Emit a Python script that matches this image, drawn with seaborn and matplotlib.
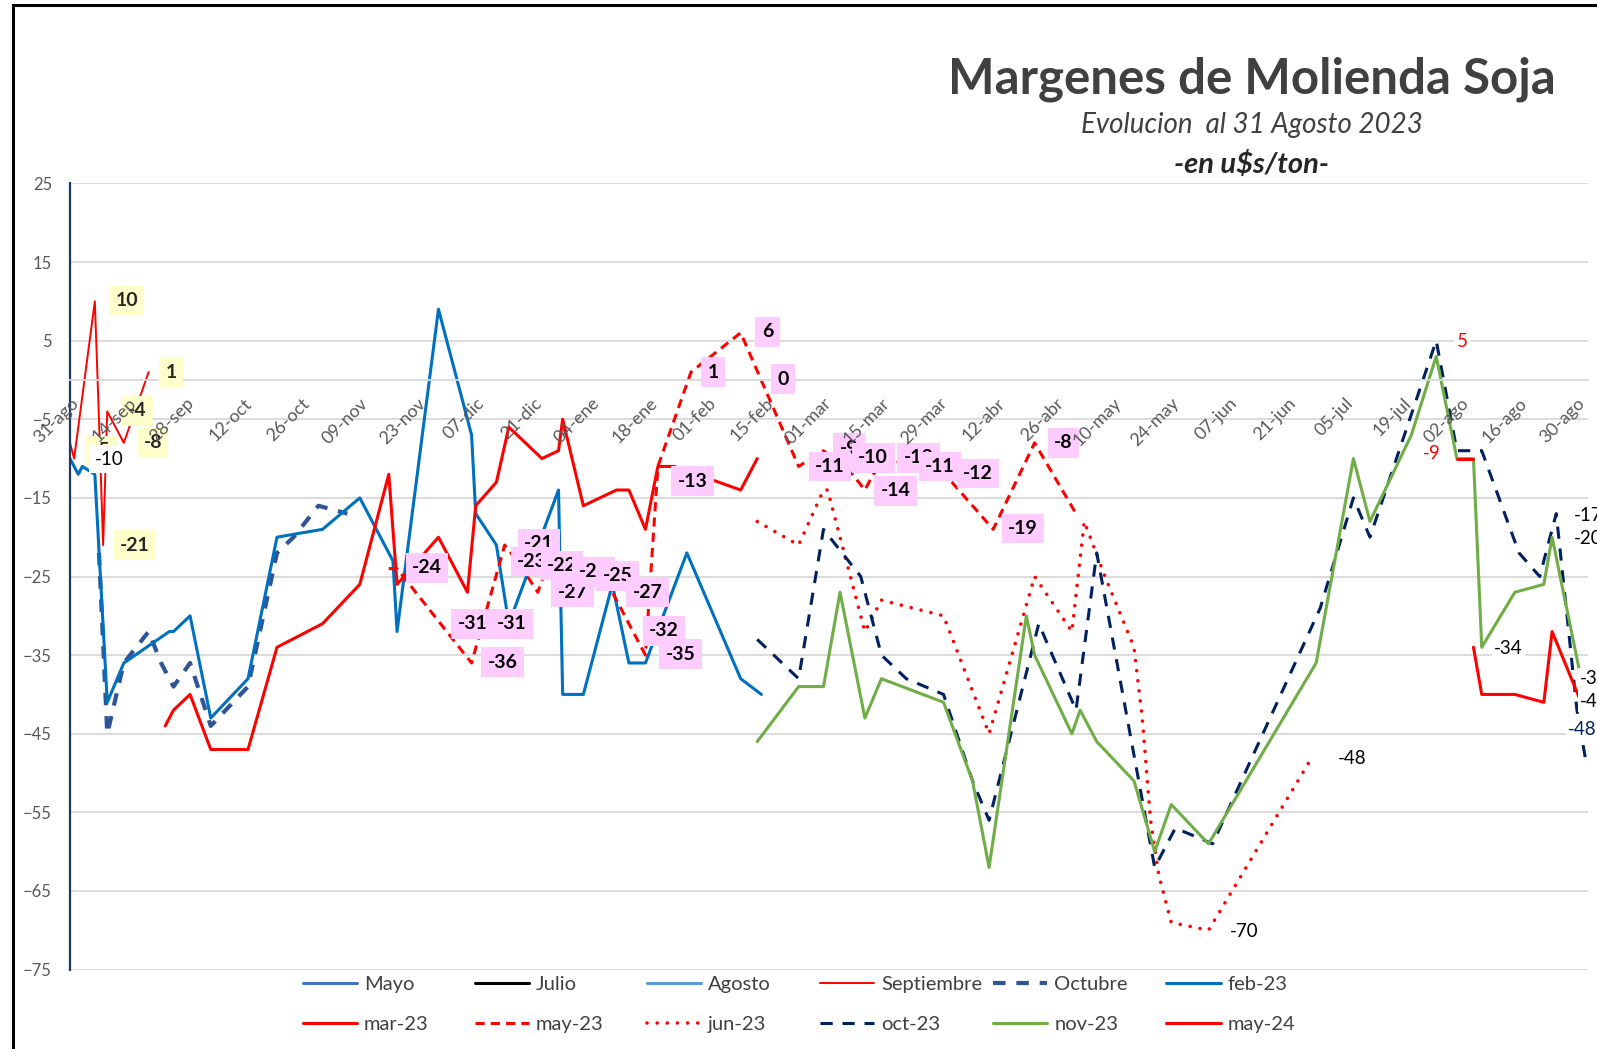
import numpy as np
import pandas as pd
import matplotlib
matplotlib.use("Agg")
import matplotlib.pyplot as plt
from matplotlib.lines import Line2D
from matplotlib.patches import Rectangle
import seaborn as sns

# eje x: dias contados desde el 31-ago-2022
tick_days = list(range(0, 365, 14))
tick_labels = ["31-ago", "14-sep", "28-sep", "12-oct", "26-oct", "09-nov", "23-nov",
               "07-dic", "21-dic", "04-ene", "18-ene", "01-feb", "15-feb", "01-mar",
               "15-mar", "29-mar", "12-abr", "26-abr", "10-may", "24-may", "07-jun",
               "21-jun", "05-jul", "19-jul", "02-ago", "16-ago", "30-ago"]
y_ticks = [25, 15, 5, -5, -15, -25, -35, -45, -55, -65, -75]

sep_days = [0, 1, 6, 7, 8, 9, 13, 19]
sep_vals = [-8, -10, 10, -5, -21, -4, -8, 1]

oct_days = [7, 9, 13, 19, 22, 25, 29, 34, 43, 50, 54, 60, 67]
oct_vals = [-22, -45, -36, -32, -36, -39, -36, -44, -39, -22, -20, -16, -17]

feb23_days = [0, 2, 3, 6, 9, 13, 24, 25, 29, 34, 43, 50, 61, 70, 78, 79, 89, 97, 98, 103,
              106, 118, 119, 124, 131, 135, 139, 149, 162, 167]
feb23_vals = [-10, -12, -11, -12, -41, -36, -32, -32, -30, -43, -38, -20, -19, -15, -23, -32, 9, -7, -17, -21,
              -31, -14, -40, -40, -26, -36, -36, -22, -38, -40]

mar23_days = [23, 25, 29, 34, 43, 50, 61, 70, 77, 79, 89, 96, 98, 103, 106, 114, 118, 119, 124, 132,
              135, 139, 142, 146, 162, 166]
mar23_vals = [-44, -42, -40, -47, -47, -34, -31, -26, -12, -26, -20, -27, -16, -13, -6, -10, -9, -5, -16, -14,
              -14, -19, -11, -11, -14, -10]

may23_days = [77, 79, 97, 105, 108, 113, 115, 120, 126, 131, 139, 142, 150, 162, 176, 182, 189,
              192, 194, 198, 203, 208, 213, 223, 233, 243]
may23_vals = [-24, -24, -36, -21, -23, -27, -24, -23, -25, -27, -35, -11, 1, 6, -11, -9, -12,
              -14, -12, -10, -11, -11, -13, -19, -8, -17]

jun23_days = [166, 176, 182, 183, 192, 193, 196, 211, 222, 233, 242, 245, 250, 257, 259, 261,
              263, 266, 275, 300]
jun23_vals = [-18, -21, -14, -14, -32, -31, -28, -30, -45, -25, -32, -18, -25, -34, -43, -56,
              -63, -69, -70, -48]

oct23_days = [166, 176, 182, 191, 196, 202, 211, 218, 222, 234, 243, 248, 262, 267, 276, 302,
              310, 314, 330, 335, 341, 350, 355, 359, 364, 366]
oct23_vals = [-33, -38, -19, -25, -35, -38, -40, -51, -56, -31, -42, -22, -62, -57, -59, -29,
              -15, -20, 5, -9, -9, -22, -25, -17, -42, -48]

nov23_days = [166, 176, 182, 186, 192, 196, 211, 218, 222, 231, 233, 242, 244, 248, 257, 262,
              266, 275, 301, 310, 314, 324, 330, 335, 339, 341, 349, 356, 358, 365]
nov23_vals = [-46, -39, -39, -27, -43, -38, -41, -51, -62, -30, -35, -45, -42, -46, -51, -60,
              -54, -59, -36, -10, -18, -7, 3, -10, -10, -34, -27, -26, -20, -38]

may24_days = [335, 339, 339, 339, 341, 349, 356, 358, 365]
may24_vals = [-10, -10, np.nan, -34, -40, -40, -41, -32, -41]

series_names = ["Mayo", "Julio", "Agosto", "Septiembre", "Octubre", "feb-23",
                "mar-23", "may-23", "jun-23", "oct-23", "nov-23", "may-24"]
series_data = {
    "Septiembre": (sep_days, sep_vals),
    "Octubre": (oct_days, oct_vals),
    "feb-23": (feb23_days, feb23_vals),
    "mar-23": (mar23_days, mar23_vals),
    "may-23": (may23_days, may23_vals),
    "jun-23": (jun23_days, jun23_vals),
    "oct-23": (oct23_days, oct23_vals),
    "nov-23": (nov23_days, nov23_vals),
    "may-24": (may24_days, may24_vals),
}

# etiquetas de datos (dia, valor, texto)
pink_labels = [
    (86.2, -23.9, "-24"), (97.2, -31, "-31"), (106.8, -31, "-31"), (104.5, -35.9, "-36"),
    (113.3, -20.8, "-21"), (111.6, -23.1, "-23"), (118.8, -23.6, "-22"), (121.4, -27, "-27"),
    (126.5, -24.4, "-24"), (132.2, -24.9, "-25"), (139.5, -27, "-27"), (143.5, -31.9, "-32"),
    (147.5, -34.9, "-35"), (150.4, -12.9, "-13"), (155.3, 1, "1"), (168.5, 6.1, "6"),
    (172.2, 0.1, "0"), (188.2, -8.7, "-9"), (183.6, -11, "-11"), (194.0, -9.9, "-10"),
    (205.0, -9.9, "-12"), (210.1, -11, "-11"), (199.4, -14.1, "-14"), (219.3, -11.9, "-12"),
    (230.2, -18.9, "-19"), (240.0, -8, "-8"),
]
yellow_labels = [
    (7.5, -9.0, "-5"), (13.7, 10.1, "10"), (24.4, 1.0, "1"), (16.2, -3.9, "-4"),
    (20.0, -8.0, "-8"), (15.7, -21.0, "-21"),
]
plain_labels = [
    (363.2, -17.3, "-17", "black"), (363.2, -20.2, "-20", "black"),
    (364.6, -38.0, "-38", "black"), (364.6, -40.9, "-41", "black"),
    (361.8, -44.5, "-48", "#002060"), (344.0, -34.2, "-34", "black"),
    (280.2, -70.2, "-70", "black"), (306.2, -48.2, "-48", "black"),
]

styles = {
    "Mayo": dict(color="#4472C4", lw=2.2),
    "Julio": dict(color="black", lw=2.2),
    "Agosto": dict(color="#5B9BD5", lw=2.2),
    "Septiembre": dict(color="#FF0000", lw=1.4),
    "Octubre": dict(color="#2F5597", lw=3.0, ls=(0, (3, 2.6))),
    "feb-23": dict(color="#0070C0", lw=2.2),
    "mar-23": dict(color="#FF0000", lw=2.2),
    "may-23": dict(color="#FF0000", lw=2.2, ls=(0, (3, 2))),
    "jun-23": dict(color="#FF0000", lw=2.6, ls=(0, (0.01, 2.8)), cap="round"),
    "oct-23": dict(color="#002060", lw=2.2, ls=(0, (4, 3.2))),
    "nov-23": dict(color="#70AD47", lw=2.2),
    "may-24": dict(color="#FF0000", lw=2.2),
}

rows = []
for name, (days, vals) in series_data.items():
    tramo = 0
    for d, v in zip(days, vals):
        if pd.isna(v):
            tramo += 1
            continue
        rows.append({"serie": name, "dia": d, "valor": v, "tramo": tramo})
df = pd.DataFrame(rows)

sns.set_style("white")
plt.rcParams["font.family"] = ["Lato", "DejaVu Sans"]

W, H = 1597, 1049
fig = plt.figure(figsize=(W / 100, H / 100), dpi=100)
fig.patch.set_facecolor("white")
ax = fig.add_axes([70 / W, 1 - 969.6 / H, (1588 - 70) / W, (969.6 - 183.4) / H])

# el eje horizontal cruza en 0
for s in ["top", "right"]:
    ax.spines[s].set_visible(False)
ax.spines["bottom"].set_position(("data", 0))
ax.spines["bottom"].set_color("#D9D9D9")
ax.spines["bottom"].set_linewidth(1.3)
ax.spines["left"].set_color("#1F3864")
ax.spines["left"].set_linewidth(1.6)

for y in y_ticks:
    ax.axhline(y, color="#D9D9D9", lw=1.3, zorder=0)

for name in series_names:
    sub = df[df["serie"] == name]
    if sub.empty:
        continue
    st = styles[name]
    sns.lineplot(data=sub, x="dia", y="valor", units="tramo", estimator=None, sort=False,
                 color=st["color"], lw=st["lw"], linestyle=st.get("ls", "-"),
                 dash_capstyle=st.get("cap", "butt"), ax=ax, legend=False, zorder=2)

ax.set_xlim(0, (1588 - 70) / 4.14)
ax.set_ylim(-75, 25)
ax.set_xlabel("")
ax.set_ylabel("")
ax.set_yticks(y_ticks)
ax.set_xticks(tick_days)
ax.set_xticklabels(tick_labels, rotation=45, ha="right", va="top", rotation_mode="anchor")
ax.tick_params(axis="y", length=0, pad=13, labelsize=12, labelcolor="#595959")
ax.tick_params(axis="x", length=0, pad=11, labelsize=13, labelcolor="#595959")
ax.xaxis.set_zorder(6)

for d, v, t in yellow_labels:
    ax.text(d, v, t, ha="center", va="center", fontsize=14, fontweight="bold", color="#262626",
            bbox=dict(boxstyle="square,pad=0.33", fc="#FFFFCC", ec="none"), zorder=4, clip_on=False)
ax.text(9.4, -10.1, "-10", ha="center", va="center", fontsize=13.5, color="black",
        bbox=dict(boxstyle="square,pad=0.3", fc="white", ec="none"), zorder=4)
for d, v, t in pink_labels:
    ax.text(d, v, t, ha="center", va="center", fontsize=14, fontweight="bold", color="black",
            bbox=dict(boxstyle="square,pad=0.33", fc="#FFCCFF", ec="none"), zorder=4, clip_on=False)
for d, v, t, c in plain_labels:
    ax.text(d, v, t, ha="left", va="center", fontsize=13.5, color=c,
            bbox=dict(boxstyle="square,pad=0.1", fc="white", ec="none"), zorder=4, clip_on=False)
ax.text(336.3, 4.9, "5", ha="center", va="center", fontsize=13.5, color="#FF0000",
        bbox=dict(boxstyle="square,pad=0.15", fc="white", ec="none"), zorder=4)
ax.text(328.9, -9.3, "-9", ha="center", va="center", fontsize=13.5, color="#FF0000", zorder=4)

# titulos
fig.text(1252 / W, 1 - 79 / H, "Margenes de Molienda Soja", ha="center", va="center",
         fontsize=35.5, fontweight="bold", color="#404040")
fig.text(1252 / W, 1 - 125 / H, "Evolucion  al 31 Agosto 2023", ha="center", va="center",
         fontsize=20, fontstyle="italic", color="#404040")
fig.text(1252 / W, 1 - 165 / H, "-en u$s/ton-", ha="center", va="center",
         fontsize=21, fontstyle="italic", fontweight="bold", color="#262626")

# leyenda, 6 columnas de ancho fijo
handles = []
for name in series_names:
    st = styles[name]
    handles.append(Line2D([], [], color=st["color"], lw=st["lw"], linestyle=st.get("ls", "-"),
                          dash_capstyle=st.get("cap", "butt")))
col_x = [302.5, 474.6, 646.8, 819.9, 993.0, 1166.2]
for i, x in enumerate(col_x):
    fig.legend(handles=[handles[i], handles[i + 6]], labels=[series_names[i], series_names[i + 6]],
               loc="center left", bbox_to_anchor=(x / W, 1 - 1004.5 / H), frameon=False,
               fontsize=14.5, handlelength=2.7, handletextpad=0.35, labelspacing=1.15,
               borderpad=0, borderaxespad=0, labelcolor="#404040")

fig.add_artist(Rectangle((13 / W, -0.05), 1.2, 1 - 5 / H + 0.05, transform=fig.transFigure,
                         fill=False, ec="black", lw=2.2))

fig.savefig("out.png", dpi=100)
